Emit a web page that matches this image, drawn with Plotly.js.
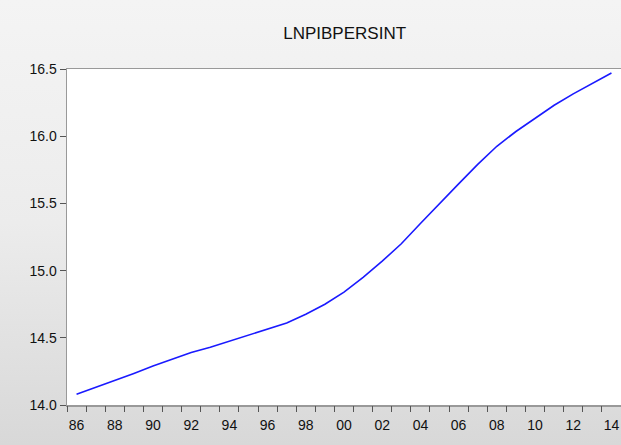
<!DOCTYPE html>
<html>
<head>
<meta charset="utf-8">
<script src="https://cdn.plot.ly/plotly-3.0.1.min.js"></script>
<style>
html,body{margin:0;padding:0;}
body{width:621px;height:445px;background:linear-gradient(to bottom,#f4f4f4 0%,#ececec 50%,#d8d8d8 100%);}
#chart{width:621px;height:445px;}
</style>
</head>
<body>
<div id="chart"></div>
<script>
var years = [1986,1987,1988,1989,1990,1991,1992,1993,1994,1995,1996,1997,1998,1999,2000,
             2001,2002,2003,2004,2005,2006,2007,2008,2009,2010,2011,2012,2013,2014];
var lnpib = [14.08,14.13,14.185,14.235,14.29,14.34,14.39,14.43,14.475,14.515,14.56,14.61,14.675,14.75,14.84,
             14.95,15.07,15.20,15.35,15.50,15.645,15.79,15.925,16.035,16.135,16.23,16.315,16.395,16.47];
var labelYears = [1986,1988,1990,1992,1994,1996,1998,2000,2002,2004,2006,2008,2010,2012,2014];
var tickLabels = ['86','88','90','92','94','96','98','00','02','04','06','08','10','12','14'];
var yTicks = [14.0,14.5,15.0,15.5,16.0,16.5];

var boundaries = years.map(function(y){return y-0.5;}).concat([years[years.length-1]+0.5]);
var xr = [years[0]-0.5, years[years.length-1]+0.5];

var data = [
  {x: years, y: lnpib, type:'scatter', mode:'lines', line:{color:'#1a1aff', width:1.6}, xaxis:'x', yaxis:'y', hoverinfo:'skip'},
  {x: [xr[0]], y: [yTicks[0]], type:'scatter', mode:'markers', marker:{opacity:0}, xaxis:'x2', yaxis:'y', hoverinfo:'skip', showlegend:false}
];

var layout = {
  width:621, height:445,
  paper_bgcolor:'rgba(0,0,0,0)', plot_bgcolor:'#ffffff',
  margin:{l:67, r:0, t:69, b:40},
  showlegend:false,
  font:{family:'Liberation Sans, Arial, sans-serif', size:14, color:'#111'},
  title:{text:'LNPIBPERSINT', x:0.555, xanchor:'center', y:0.925, yanchor:'middle', font:{size:17, color:'#111'}},
  xaxis:{range:xr, tickvals:labelYears, ticktext:tickLabels, ticks:'outside', ticklen:7, tickcolor:'rgba(0,0,0,0)',
         showgrid:false, zeroline:false, showline:true, linecolor:'#999', linewidth:1.5, mirror:true, fixedrange:true},
  xaxis2:{range:xr, overlaying:'x', side:'bottom', tickvals:boundaries, showticklabels:false, ticks:'outside', ticklen:6,
          tickcolor:'#555', tickwidth:1, showgrid:false, zeroline:false, showline:false, fixedrange:true},
  yaxis:{range:[14.0,16.5], tickvals:yTicks, tickformat:'.1f', ticks:'outside', ticklen:6, tickcolor:'#555',
         showgrid:false, zeroline:false, showline:true, linecolor:'#999', linewidth:1.5, fixedrange:true}
};

Plotly.newPlot('chart', data, layout, {displayModeBar:false, staticPlot:true});
</script>
</body>
</html>
